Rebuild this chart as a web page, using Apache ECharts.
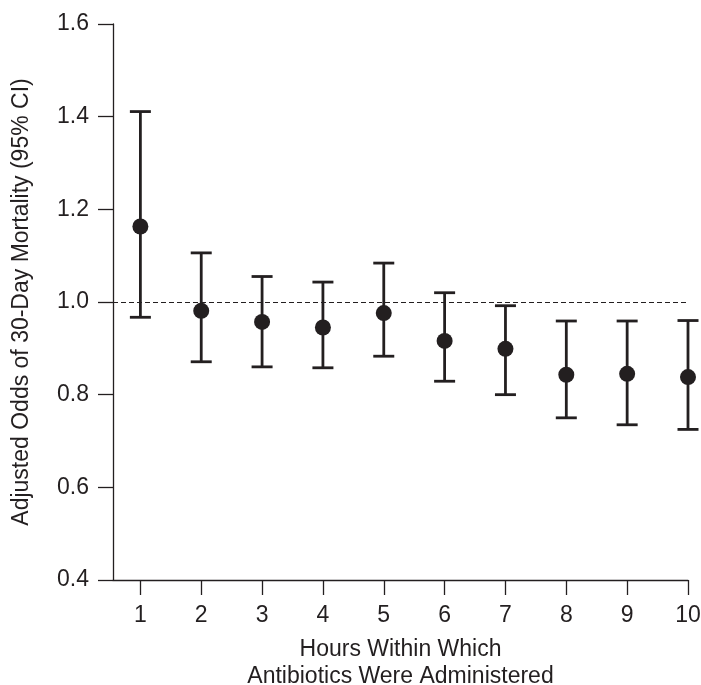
<!DOCTYPE html>
<html>
<head>
<meta charset="utf-8">
<script src="https://cdn.jsdelivr.net/npm/echarts@6/dist/echarts.min.js"></script>
<style>
html,body{margin:0;padding:0;background:#fff;}
#chart{width:701px;height:685px;}
</style>
</head>
<body>
<div id="chart"></div>
<script>
var hours = [1, 2, 3, 4, 5, 6, 7, 8, 9, 10];
var odds  = [1.163, 0.981, 0.957, 0.945, 0.976, 0.916, 0.899, 0.843, 0.845, 0.838];
var lower = [0.967, 0.871, 0.860, 0.858, 0.883, 0.829, 0.800, 0.750, 0.735, 0.725];
var upper = [1.411, 1.106, 1.055, 1.043, 1.084, 1.020, 0.992, 0.959, 0.959, 0.960];
var yTicks = [0.4, 0.6, 0.8, 1.0, 1.2, 1.4, 1.6];
var refValue = 1.0;
var xTitle = 'Hours Within Which\nAntibiotics Were Administered';
var yTitle = 'Adjusted Odds of 30-Day Mortality (95% CI)';

var ink = '#231f20';
var font = 'Liberation Sans, Arial, Helvetica, sans-serif';

var barData = hours.map(function (h, i) { return [h, lower[i], upper[i]]; });
var pointData = hours.map(function (h, i) { return [h, odds[i]]; });

var chart = echarts.init(document.getElementById('chart'), null, {renderer: 'canvas'});
chart.setOption({
  animation: false,
  backgroundColor: '#fff',
  textStyle: {fontFamily: font},
  grid: {left: 113, right: 13, top: 24, bottom: 105, containLabel: false, outerBoundsMode: 'none'},
  xAxis: {
    type: 'value',
    min: 0.55,
    max: 10,
    name: xTitle,
    nameLocation: 'middle',
    nameGap: 56,
    nameTextStyle: {fontSize: 23, color: ink, lineHeight: 27, fontFamily: font},
    axisLine: {show: true, lineStyle: {color: ink, width: 1.3}},
    axisTick: {show: true, length: 15, inside: false, customValues: hours, lineStyle: {color: ink, width: 1.3}},
    axisLabel: {show: true, customValues: hours, margin: 24, fontSize: 23, color: ink, fontFamily: font},
    splitLine: {show: false}
  },
  yAxis: {
    type: 'value',
    min: 0.4,
    max: 1.6,
    interval: 0.2,
    name: yTitle,
    nameLocation: 'middle',
    nameRotate: 90,
    nameGap: 80,
    nameTextStyle: {fontSize: 23, color: ink, fontFamily: font},
    axisLine: {show: true, lineStyle: {color: ink, width: 1.3}},
    axisTick: {show: true, length: 15, customValues: yTicks, lineStyle: {color: ink, width: 1.3}},
    axisLabel: {show: true, customValues: yTicks, margin: 24, fontSize: 23, color: ink, fontFamily: font,
      formatter: function (v) { return Number(v).toFixed(1); }},
    splitLine: {show: false}
  },
  series: [
    {
      type: 'custom',
      data: barData,
      clip: false,
      renderItem: function (params, api) {
        var x = api.value(0);
        var lo = api.coord([x, api.value(1)]);
        var hi = api.coord([x, api.value(2)]);
        var half = 10.5;
        var style = {stroke: ink, lineWidth: 2.8};
        return {
          type: 'group',
          children: [
            {type: 'line', shape: {x1: lo[0], y1: lo[1], x2: hi[0], y2: hi[1]}, style: style},
            {type: 'line', shape: {x1: hi[0] - half, y1: hi[1], x2: hi[0] + half, y2: hi[1]}, style: style},
            {type: 'line', shape: {x1: lo[0] - half, y1: lo[1], x2: lo[0] + half, y2: lo[1]}, style: style}
          ]
        };
      },
      markLine: {
        silent: true,
        symbol: ['none', 'none'],
        label: {show: false},
        lineStyle: {color: ink, type: [5, 3], width: 1.1},
        data: [{yAxis: refValue}]
      },
      z: 2
    },
    {
      type: 'scatter',
      data: pointData,
      symbol: 'circle',
      symbolSize: 16,
      itemStyle: {color: ink, opacity: 1},
      clip: false,
      z: 3
    }
  ]
});
</script>
</body>
</html>
